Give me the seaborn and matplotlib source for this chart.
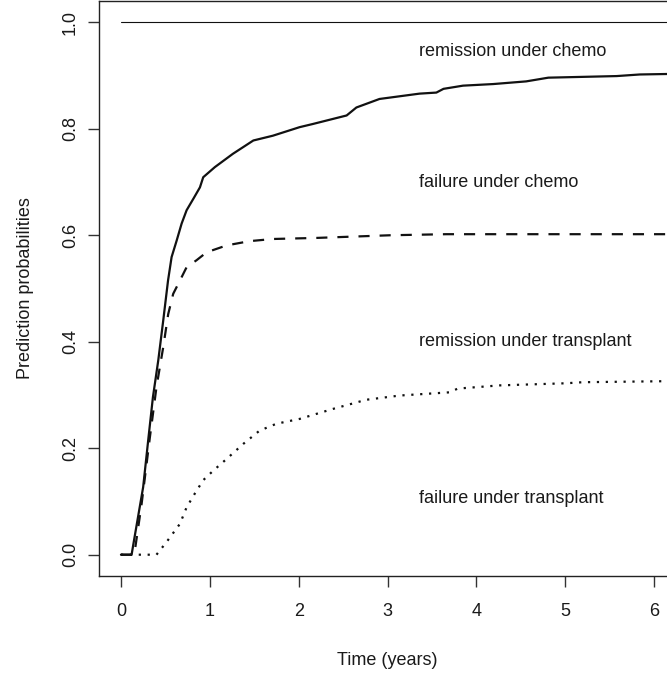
import matplotlib
matplotlib.use("Agg")
import matplotlib.pyplot as plt
import seaborn as sns

# Stacked prediction probabilities over time (years)
chemo_t = [0.0, 0.12, 0.14, 0.25, 0.31, 0.36, 0.42, 0.476, 0.53, 0.57, 0.627, 0.683,
           0.739, 0.82, 0.889, 0.926, 1.057, 1.26, 1.49, 1.71, 2.01, 2.16, 2.54,
           2.65, 2.91, 3.36, 3.55, 3.63, 3.85, 4.19, 4.56, 4.81, 5.58, 5.84, 6.18]
chemo_p = [0.0, 0.0, 0.02, 0.127, 0.22, 0.296, 0.365, 0.44, 0.515, 0.559, 0.59, 0.622,
           0.647, 0.67, 0.69, 0.709, 0.728, 0.753, 0.778, 0.787, 0.803, 0.809, 0.825,
           0.84, 0.856, 0.866, 0.868, 0.875, 0.881, 0.884, 0.889, 0.896, 0.899, 0.902, 0.903]

trans_t = [0.0, 0.15, 0.233, 0.326, 0.40, 0.476, 0.532, 0.588, 0.664, 0.739, 0.85,
           0.964, 1.19, 1.45, 1.71, 2.2, 3.03, 3.66, 6.18]
trans_p = [0.0, 0.0, 0.096, 0.221, 0.315, 0.39, 0.452, 0.49, 0.515, 0.540, 0.553,
           0.568, 0.581, 0.589, 0.593, 0.595, 0.600, 0.602, 0.602]

remis_t = [0.0, 0.40, 0.514, 0.664, 0.739, 0.832, 0.926, 1.04, 1.19, 1.376, 1.56,
           1.75, 2.01, 2.39, 2.76, 3.14, 3.70, 3.79, 4.26, 5.01, 5.2, 6.18]
remis_p = [0.0, 0.0, 0.024, 0.058, 0.089, 0.115, 0.14, 0.158, 0.18, 0.208, 0.233,
           0.246, 0.255, 0.274, 0.291, 0.299, 0.305, 0.312, 0.318, 0.322, 0.324, 0.326]

ref_t = [0.0, 6.18]
ref_p = [1.0, 1.0]

region_labels = ["remission under chemo", "failure under chemo",
                 "remission under transplant", "failure under transplant"]
region_y = [0.945, 0.70, 0.40, 0.105]
label_x = 3.36

sns.set_style("ticks")
plt.rcParams["font.family"] = ["Liberation Sans", "DejaVu Sans"]

W, H = 667, 675
left_px, right_px, top_px, bottom_px = 99, 692, 1, 576
fig = plt.figure(figsize=(W / 100, H / 100), dpi=100)
ax = fig.add_axes([left_px / W, 1 - bottom_px / H,
                   (right_px - left_px) / W, (bottom_px - top_px) / H])

ink = "#111111"
sns.lineplot(x=ref_t, y=ref_p, ax=ax, color=ink, lw=0.8, estimator=None, sort=False)
sns.lineplot(x=chemo_t, y=chemo_p, ax=ax, color=ink, lw=1.6, estimator=None, sort=False)
sns.lineplot(x=trans_t, y=trans_p, ax=ax, color=ink, lw=1.6, estimator=None, sort=False,
             linestyle=(0, (5, 4.5)))
sns.lineplot(x=remis_t, y=remis_p, ax=ax, color=ink, lw=1.6, estimator=None, sort=False,
             linestyle=(0, (1, 3)))

for txt, yv in zip(region_labels, region_y):
    ax.text(label_x, yv, txt, ha="left", va="center", fontsize=13, color="#1a1a1a")

ax.set_xlim(-0.247, 6.427)
ax.set_ylim(-0.04, 1.04)
ax.set_xticks([0, 1, 2, 3, 4, 5, 6])
ax.set_yticks([0.0, 0.2, 0.4, 0.6, 0.8, 1.0])
ax.set_yticklabels(["0.0", "0.2", "0.4", "0.6", "0.8", "1.0"], rotation=90, va="center")
ax.tick_params(axis="both", direction="out", length=8, width=1, color="#333333",
               labelsize=13, labelcolor="#1a1a1a")
ax.tick_params(axis="x", pad=11.5)
ax.tick_params(axis="y", pad=6.5)
for s in ax.spines.values():
    s.set_visible(True)
    s.set_color("#222222")
    s.set_linewidth(1.0)

ax.set_xlabel("Time (years)", fontsize=13, color="#1a1a1a", labelpad=23)
ax.set_ylabel("Prediction probabilities", fontsize=13, color="#1a1a1a", labelpad=20)
ax.xaxis.label.set_position(((387 - left_px) / (right_px - left_px), 0))

fig.savefig("out.png", dpi=100)
